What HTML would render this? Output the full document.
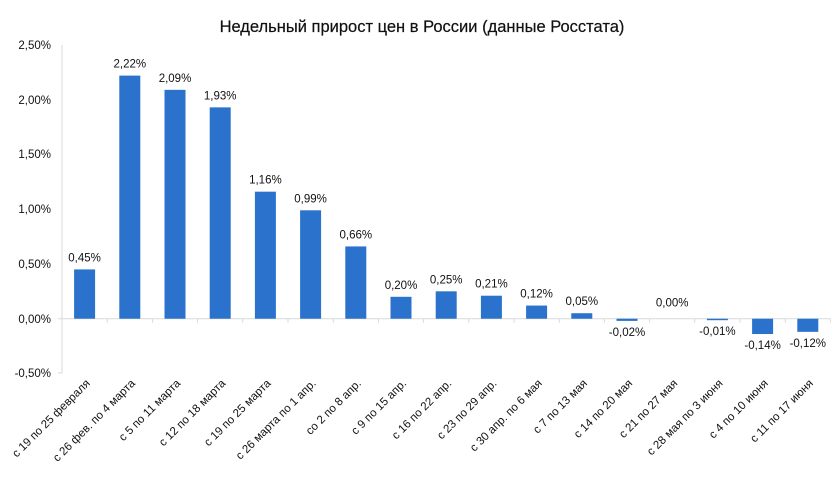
<!DOCTYPE html>
<html><head><meta charset="utf-8"><style>html,body{margin:0;padding:0;background:#fff}svg{display:block}text{font-family:"Liberation Sans",sans-serif;fill:#111}</style></head>
<body>
<svg width="840" height="479" viewBox="0 0 840 479" xmlns="http://www.w3.org/2000/svg">
<text x="422" y="32" font-size="16.5" text-anchor="middle" stroke="#111" stroke-width="0.2">Недельный прирост цен в России (данные Росстата)</text>
<g font-size="11.5" text-anchor="end">
<text x="51" y="49">2,50%</text>
<text x="51" y="104">2,00%</text>
<text x="51" y="158">1,50%</text>
<text x="51" y="213">1,00%</text>
<text x="51" y="268">0,50%</text>
<text x="51" y="323">0,00%</text>
<text x="51" y="377">-0,50%</text>
</g>
<line x1="62" y1="45" x2="62" y2="373" stroke="#d9d9d9"/>
<line x1="58" y1="373" x2="62" y2="373" stroke="#d9d9d9"/>
<line x1="58" y1="318.7" x2="830" y2="318.7" stroke="#d9d9d9"/>
<g id="bars"></g>
<script>
var vals=[0.45,2.22,2.09,1.93,1.16,0.99,0.66,0.20,0.25,0.21,0.12,0.05,-0.02,0.00,-0.01,-0.14,-0.12];
var labs=["с 19 по 25 февраля","с 26 фев. по 4 марта","с 5 по 11 марта","с 12 по 18 марта","с 19 по 25 марта","с 26 марта по 1 апр.","со 2 по 8 апр.","с 9 по 15 апр.","с 16 по 22 апр.","с 23 по 29 апр.","с 30 апр. по 6 мая","с 7 по 13 мая","с 14 по 20 мая","с 21 по 27 мая","с 28 мая по 3 июня","с 4 по 10 июня","с 11 по 17 июня"];
var ns="http://www.w3.org/2000/svg",g=document.getElementById("bars"),z=318.7,k=109.5,w=45.2;
function el(t,a,txt){var e=document.createElementNS(ns,t);for(var i in a)e.setAttribute(i,a[i]);if(txt!=null)e.textContent=txt;g.appendChild(e);return e;}
for(var i=0;i<17;i++){
 var c=62+w*(i+0.5),v=vals[i],h=Math.abs(v)*k,y=v>=0?z-h:z;
 if(Math.abs(v)>0)el("rect",{x:c-10.5,y:y,width:21,height:Math.max(h,1.5),fill:"#2a72cc"});
 el("line",{x1:62+w*(i+1),y1:z,x2:62+w*(i+1),y2:z+4,stroke:"#d9d9d9"});
 var s=(v<0?"-":"")+Math.abs(v).toFixed(2).replace(".",",")+"%";
 el("text",{x:c,y:v>=0?(v==0?z-12:y-8):y+h+15,"font-size":11.5,"text-anchor":"middle"},s);
 el("text",{x:0,y:0,"font-size":11.5,"text-anchor":"end",transform:"translate("+(c+6)+",384) rotate(-45)"},labs[i]);
}
</script>
</svg>
</body></html>
